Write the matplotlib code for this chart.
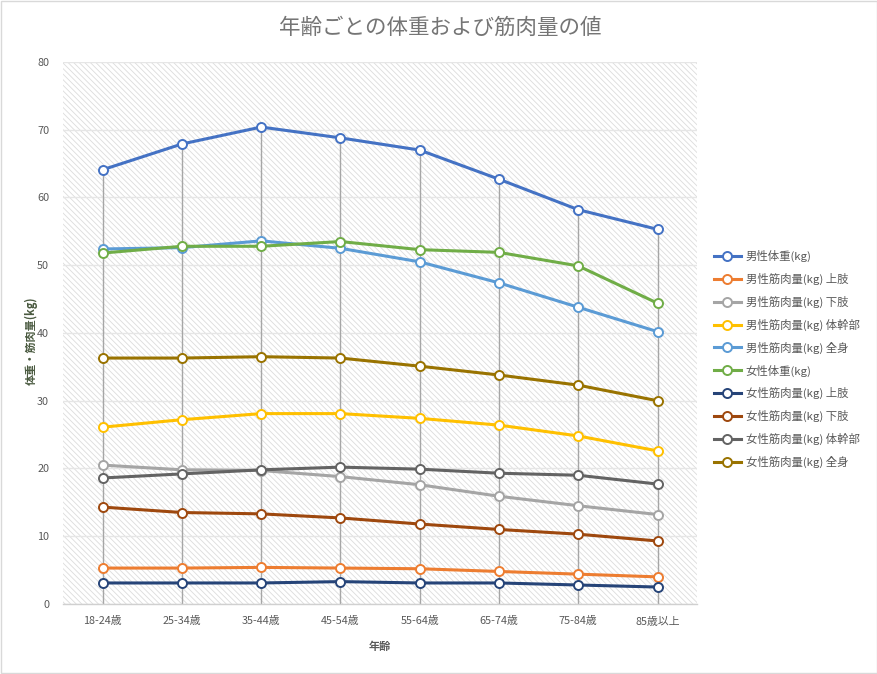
import matplotlib
matplotlib.use("Agg")
import matplotlib.pyplot as plt
import numpy as np
from matplotlib.patches import Rectangle

plt.rcParams['font.family'] = ['Noto Sans CJK JP', 'DejaVu Sans']

categories = ["18-24歳", "25-34歳", "35-44歳", "45-54歳", "55-64歳", "65-74歳", "75-84歳", "85歳以上"]

male_weight = [64.1, 67.9, 70.4, 68.8, 67.0, 62.7, 58.2, 55.3]
male_upper = [5.3, 5.3, 5.4, 5.3, 5.2, 4.8, 4.4, 4.0]
male_lower = [20.5, 19.8, 19.7, 18.8, 17.6, 15.9, 14.5, 13.2]
male_trunk = [26.1, 27.2, 28.1, 28.1, 27.4, 26.4, 24.8, 22.6]
male_total = [52.4, 52.6, 53.6, 52.5, 50.5, 47.4, 43.8, 40.2]
female_weight = [51.8, 52.8, 52.8, 53.5, 52.3, 51.9, 49.9, 44.4]
female_upper = [3.1, 3.1, 3.1, 3.3, 3.1, 3.1, 2.8, 2.5]
female_lower = [14.3, 13.5, 13.3, 12.7, 11.8, 11.0, 10.3, 9.3]
female_trunk = [18.6, 19.2, 19.8, 20.2, 19.9, 19.3, 19.0, 17.7]
female_total = [36.3, 36.3, 36.5, 36.3, 35.1, 33.8, 32.3, 30.0]

series_names = ["男性体重(kg)", "男性筋肉量(kg) 上肢", "男性筋肉量(kg) 下肢", "男性筋肉量(kg) 体幹部",
                "男性筋肉量(kg) 全身", "女性体重(kg)", "女性筋肉量(kg) 上肢", "女性筋肉量(kg) 下肢",
                "女性筋肉量(kg) 体幹部", "女性筋肉量(kg) 全身"]
series_values = [male_weight, male_upper, male_lower, male_trunk, male_total,
                 female_weight, female_upper, female_lower, female_trunk, female_total]
colors = ["#4472C4", "#ED7D31", "#A5A5A5", "#FFC000", "#5B9BD5",
          "#70AD47", "#264478", "#9E480E", "#636363", "#997300"]

fig = plt.figure(figsize=(8.78, 6.74), dpi=100)
fig.patches.append(Rectangle((0.0006, 0.0008), 0.9982, 0.9975, transform=fig.transFigure,
                             fill=False, edgecolor="#d9d9d9", linewidth=1.0))

ax = fig.add_axes([0.0718, 0.1039, 0.7222, 0.8041])
x = np.arange(len(categories))
ax.set_xlim(-0.5, len(categories) - 0.5)
ax.set_ylim(0, 80)

# hatched plot background
plt.rcParams['hatch.color'] = '#dcdcdc'
plt.rcParams['hatch.linewidth'] = 0.6
ax.add_patch(Rectangle((0, 0), 1, 1, transform=ax.transAxes, facecolor='white',
                       edgecolor='#dcdcdc', hatch='\\\\\\\\\\\\', linewidth=0, zorder=0))
ax.set_facecolor('white')

# gridlines
ax.set_yticks(np.arange(0, 81, 10))
ax.yaxis.grid(True, color='#e6e6e6', linewidth=1.0, zorder=1)
ax.set_axisbelow(True)

# drop lines
tops = np.max(np.array(series_values), axis=0)
ax.vlines(x, 0, tops, colors='#a6a6a6', linewidth=1.0, zorder=2)

for name, vals, c in zip(series_names, series_values, colors):
    ax.plot(x, vals, color=c, linewidth=2.2, marker='o', markersize=6.5,
            markerfacecolor='white', markeredgecolor=c, markeredgewidth=1.4,
            label=name, zorder=3)

for s in ['left', 'right', 'top']:
    ax.spines[s].set_visible(False)
ax.spines['bottom'].set_color('#d0d0d0')
ax.spines['bottom'].set_linewidth(1.0)

ax.set_xticks(x)
ax.set_xticklabels(categories)
ax.tick_params(axis='both', length=0, labelsize=7.8, colors='#595959', pad=9)
ax.tick_params(axis='y', pad=10)

ax.set_xlabel("年齢", fontsize=8, color='#595959', fontweight='bold', labelpad=10)
ax.set_ylabel("体重・筋肉量(kg)", fontsize=8, color='#4a5a40', fontweight='bold', labelpad=2)
ax.yaxis.set_label_coords(-0.04, 0.485)

fig.text(0.501, 0.958, "年齢ごとの体重および筋肉量の値", ha='center', va='center',
         fontsize=15.5, color='#757575')

leg = ax.legend(loc='center left', bbox_to_anchor=(1.01, 0.452), frameon=False,
                fontsize=8.2, labelcolor='#595959', handlelength=2.4,
                labelspacing=0.95, handletextpad=0.4)

fig.savefig("out.png", dpi=100)
